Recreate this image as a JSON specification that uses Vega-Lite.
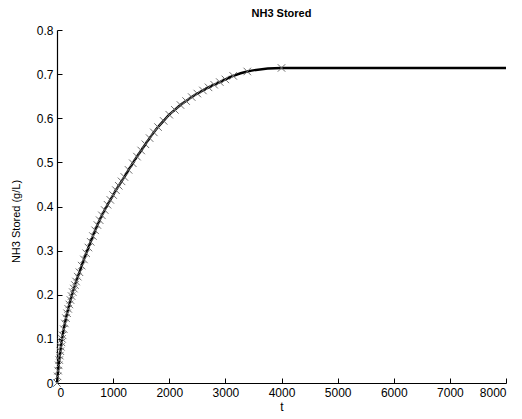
{
  "$schema": "https://vega.github.io/schema/vega-lite/v6.json",
  "width": 449,
  "height": 353,
  "autosize": {"type": "none"},
  "padding": {"left": 57, "top": 30, "right": 16, "bottom": 36},
  "background": "white",
  "title": {"text": "NH3 Stored", "fontSize": 11, "fontWeight": "bold", "font": "Liberation Sans", "color": "black", "offset": 5},
  "config": {
    "view": {"stroke": null},
    "axis": {"grid": false, "domainColor": "black", "domainWidth": 1.2, "tickColor": "black", "tickSize": -5, "tickWidth": 1, "labelColor": "black", "labelFont": "Liberation Sans", "labelFontSize": 12, "titleFont": "Liberation Sans", "titleFontWeight": "normal", "titleColor": "black", "titleFontSize": 12}
  },
  "data": {"values": [
    {"t": 0, "v": 0}, {"t": 10, "v": 0.015}, {"t": 20, "v": 0.028}, {"t": 30, "v": 0.040}, {"t": 40, "v": 0.052},
    {"t": 50, "v": 0.062}, {"t": 60, "v": 0.072}, {"t": 70, "v": 0.082}, {"t": 80, "v": 0.092}, {"t": 90, "v": 0.100},
    {"t": 100, "v": 0.108}, {"t": 120, "v": 0.122}, {"t": 140, "v": 0.135}, {"t": 160, "v": 0.147}, {"t": 180, "v": 0.158},
    {"t": 200, "v": 0.168}, {"t": 220, "v": 0.178}, {"t": 240, "v": 0.188}, {"t": 260, "v": 0.197}, {"t": 280, "v": 0.206},
    {"t": 300, "v": 0.214}, {"t": 320, "v": 0.222}, {"t": 340, "v": 0.230}, {"t": 370, "v": 0.241}, {"t": 400, "v": 0.251},
    {"t": 440, "v": 0.266}, {"t": 480, "v": 0.280}, {"t": 520, "v": 0.294}, {"t": 560, "v": 0.307}, {"t": 600, "v": 0.320},
    {"t": 640, "v": 0.333}, {"t": 680, "v": 0.346}, {"t": 720, "v": 0.358}, {"t": 760, "v": 0.369}, {"t": 800, "v": 0.380},
    {"t": 850, "v": 0.392}, {"t": 900, "v": 0.404}, {"t": 950, "v": 0.415}, {"t": 1000, "v": 0.426}, {"t": 1050, "v": 0.437},
    {"t": 1100, "v": 0.447}, {"t": 1150, "v": 0.457}, {"t": 1200, "v": 0.467}, {"t": 1275, "v": 0.483}, {"t": 1350, "v": 0.498},
    {"t": 1425, "v": 0.513}, {"t": 1500, "v": 0.527}, {"t": 1575, "v": 0.541}, {"t": 1650, "v": 0.555}, {"t": 1725, "v": 0.568},
    {"t": 1800, "v": 0.580}, {"t": 1900, "v": 0.594}, {"t": 2000, "v": 0.608}, {"t": 2100, "v": 0.619}, {"t": 2200, "v": 0.630},
    {"t": 2300, "v": 0.639}, {"t": 2400, "v": 0.648}, {"t": 2500, "v": 0.656}, {"t": 2600, "v": 0.663}, {"t": 2700, "v": 0.670},
    {"t": 2800, "v": 0.676}, {"t": 2900, "v": 0.682}, {"t": 3000, "v": 0.688}, {"t": 3140, "v": 0.696}, {"t": 3390, "v": 0.706},
    {"t": 4000, "v": 0.714}, {"t": 8000, "v": 0.714}
  ]},
  "encoding": {
    "x": {"field": "t", "type": "quantitative", "scale": {"domain": [0, 8000], "nice": false},
      "axis": {"title": "t", "values": [0,1000,2000,3000,4000,5000,6000,7000,8000], "format": "d", "labelPadding": 9, "titlePadding": 3}},
    "y": {"field": "v", "type": "quantitative", "scale": {"domain": [0, 0.8], "nice": false},
      "axis": {"title": "NH3 Stored (g/L)", "values": [0,0.1,0.2,0.3,0.4,0.5,0.6,0.7,0.8], "format": ".1~f", "labelPadding": 9, "titleFontSize": 11, "titleY": 191, "titleX": -36}}
  },
  "layer": [
    {"mark": {"type": "line", "color": "black", "strokeWidth": 2.4, "interpolate": "monotone"}},
    {"transform": [{"filter": "datum.t <= 4000"}],
     "mark": {"type": "point", "shape": "M-1,-1L1,1M-1,1L1,-1", "filled": false, "stroke": "#6e6e6e", "strokeWidth": 1, "size": 56, "opacity": 1}}
  ]
}
